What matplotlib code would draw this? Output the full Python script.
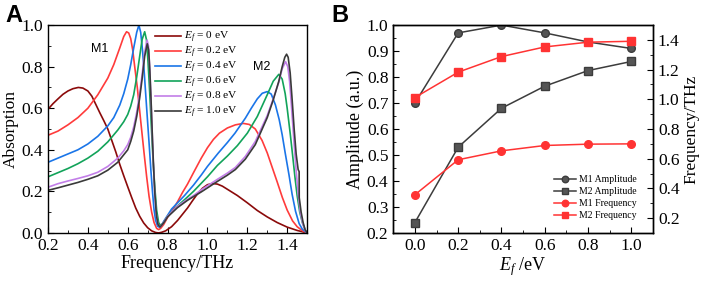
import matplotlib
matplotlib.use("Agg")
import matplotlib.pyplot as plt
from matplotlib.ticker import MultipleLocator

plt.rcParams['font.family'] = ['Liberation Serif', 'DejaVu Serif']
plt.rcParams['mathtext.fontset'] = 'custom'
plt.rcParams['mathtext.rm'] = 'Liberation Serif'
plt.rcParams['mathtext.it'] = 'Liberation Serif:italic'

# ---------------- Panel A data ----------------
f_0 = [0.2, 0.225, 0.25, 0.275, 0.3, 0.325, 0.352, 0.375, 0.4, 0.42, 0.44, 0.46, 0.48, 0.5, 0.52, 0.54, 0.56,
       0.58, 0.6, 0.62, 0.64, 0.66, 0.68, 0.7, 0.72, 0.74, 0.755, 0.77, 0.79, 0.82, 0.85, 0.875, 0.9, 0.925, 0.95,
       0.975, 1.0, 1.025, 1.05, 1.075, 1.1, 1.15, 1.2, 1.25, 1.3, 1.35, 1.4, 1.45, 1.5]
a_0 = [0.595, 0.622, 0.645, 0.667, 0.683, 0.694, 0.70, 0.697, 0.683, 0.658, 0.618, 0.578, 0.54, 0.50, 0.445, 0.39,
       0.33, 0.275, 0.222, 0.17, 0.12, 0.08, 0.048, 0.025, 0.01, 0.002, 0.0, 0.003, 0.01, 0.03, 0.06, 0.09, 0.12,
       0.155, 0.188, 0.215, 0.232, 0.238, 0.235, 0.225, 0.21, 0.18, 0.145, 0.108, 0.077, 0.05, 0.028, 0.012, 0.0]

f_2 = [0.2, 0.25, 0.3, 0.35, 0.4, 0.45, 0.5, 0.53, 0.56, 0.58, 0.594, 0.605, 0.615, 0.625, 0.635, 0.648, 0.665,
       0.682, 0.695, 0.707, 0.72, 0.732, 0.745, 0.755, 0.765, 0.78, 0.8, 0.825, 0.85, 0.875, 0.9, 0.93, 0.969, 1.0,
       1.03, 1.06, 1.1, 1.14, 1.18, 1.21, 1.24, 1.274, 1.3, 1.325, 1.35, 1.376, 1.4, 1.427, 1.45, 1.477, 1.5]
a_2 = [0.47, 0.49, 0.52, 0.555, 0.60, 0.665, 0.745, 0.81, 0.89, 0.945, 0.968, 0.962, 0.935, 0.88, 0.80, 0.70,
       0.54, 0.384, 0.27, 0.176, 0.10, 0.05, 0.022, 0.016, 0.022, 0.04, 0.075, 0.11, 0.15, 0.195, 0.235, 0.29,
       0.36, 0.41, 0.45, 0.48, 0.505, 0.52, 0.527, 0.522, 0.50, 0.445, 0.385, 0.315, 0.245, 0.17, 0.11, 0.058,
       0.03, 0.01, 0.0]

f_4 = [0.2, 0.25, 0.3, 0.35, 0.4, 0.45, 0.5, 0.53, 0.56, 0.58, 0.6, 0.615, 0.63, 0.645, 0.656, 0.665, 0.674,
       0.682, 0.69, 0.699, 0.708, 0.716, 0.724, 0.732, 0.74, 0.75, 0.758, 0.768, 0.78, 0.8, 0.82, 0.85, 0.885,
       0.93, 0.97, 1.0, 1.054, 1.1, 1.138, 1.19, 1.22, 1.25, 1.275, 1.3, 1.32, 1.341, 1.36, 1.375, 1.39, 1.409,
       1.425, 1.442, 1.46, 1.476, 1.5]
a_4 = [0.34, 0.36, 0.38, 0.40, 0.428, 0.465, 0.515, 0.555, 0.615, 0.67, 0.74, 0.81, 0.89, 0.965, 1.0, 0.965,
       0.88, 0.784, 0.67, 0.544, 0.42, 0.304, 0.20, 0.112, 0.06, 0.032, 0.028, 0.035, 0.055, 0.085, 0.115, 0.145,
       0.18, 0.23, 0.28, 0.32, 0.384, 0.435, 0.48, 0.552, 0.60, 0.645, 0.672, 0.68, 0.668, 0.616, 0.545, 0.472,
       0.385, 0.28, 0.185, 0.104, 0.045, 0.018, 0.0]

f_6 = [0.2, 0.25, 0.3, 0.35, 0.4, 0.45, 0.5, 0.55, 0.58, 0.6, 0.615, 0.63, 0.645, 0.66, 0.672, 0.685, 0.694,
       0.702, 0.71, 0.718, 0.726, 0.735, 0.745, 0.755, 0.765, 0.78, 0.8, 0.85, 0.885, 0.93, 0.97, 1.0, 1.05, 1.1,
       1.15, 1.2, 1.25, 1.3, 1.33, 1.358, 1.375, 1.39, 1.40, 1.415, 1.427, 1.44, 1.45, 1.463, 1.476, 1.49, 1.5]
a_6 = [0.27, 0.29, 0.31, 0.333, 0.36, 0.393, 0.438, 0.495, 0.535, 0.57, 0.61, 0.665, 0.75, 0.85, 0.93, 0.968,
       0.93, 0.82, 0.68, 0.52, 0.37, 0.23, 0.11, 0.05, 0.035, 0.05, 0.08, 0.13, 0.16, 0.20, 0.24, 0.27, 0.325,
       0.37, 0.42, 0.48, 0.56, 0.665, 0.73, 0.763, 0.74, 0.67, 0.60, 0.48, 0.376, 0.26, 0.18, 0.10, 0.05, 0.015,
       0.0]

f_8 = [0.2, 0.25, 0.3, 0.35, 0.4, 0.45, 0.5, 0.55, 0.58, 0.6, 0.615, 0.63, 0.645, 0.66, 0.672, 0.685, 0.697,
       0.704, 0.71, 0.716, 0.722, 0.728, 0.735, 0.743, 0.752, 0.762, 0.78, 0.8, 0.85, 0.885, 0.93, 0.97, 1.05, 1.1,
       1.14, 1.19, 1.24, 1.3, 1.33, 1.358, 1.375, 1.392, 1.403, 1.412, 1.42, 1.434, 1.445, 1.456, 1.466, 1.478,
       1.49, 1.5]
a_8 = [0.22, 0.237, 0.25, 0.262, 0.275, 0.292, 0.32, 0.36, 0.395, 0.425, 0.46, 0.51, 0.58, 0.67, 0.76, 0.87,
       0.928, 0.90, 0.80, 0.66, 0.50, 0.35, 0.20, 0.09, 0.04, 0.028, 0.05, 0.08, 0.128, 0.152, 0.18, 0.208, 0.258,
       0.288, 0.315, 0.368, 0.44, 0.565, 0.645, 0.725, 0.79, 0.824, 0.80, 0.73, 0.63, 0.44, 0.30, 0.18, 0.10,
       0.045, 0.012, 0.0]

f_10 = [0.2, 0.25, 0.3, 0.35, 0.4, 0.45, 0.5, 0.55, 0.575, 0.6, 0.615, 0.63, 0.645, 0.66, 0.672, 0.685, 0.698,
        0.705, 0.711, 0.717, 0.723, 0.729, 0.736, 0.744, 0.752, 0.762, 0.78, 0.8, 0.85, 0.9, 0.97, 1.05, 1.1, 1.14,
        1.19, 1.24, 1.3, 1.33, 1.358, 1.375, 1.388, 1.397, 1.405, 1.415, 1.425, 1.435, 1.445, 1.455, 1.46, 1.4605,
        1.47, 1.48, 1.49, 1.5]
a_10 = [0.205, 0.217, 0.23, 0.243, 0.258, 0.275, 0.302, 0.34, 0.37, 0.40, 0.44, 0.49, 0.56, 0.65, 0.74, 0.85,
        0.91, 0.88, 0.78, 0.64, 0.48, 0.33, 0.19, 0.085, 0.04, 0.028, 0.048, 0.077, 0.122, 0.157, 0.198, 0.248,
        0.278, 0.305, 0.355, 0.425, 0.555, 0.64, 0.73, 0.80, 0.845, 0.86, 0.845, 0.77, 0.64, 0.50, 0.38, 0.305,
        0.295, 0.17, 0.10, 0.05, 0.015, 0.0]

labels_A = ["0", "0.2", "0.4", "0.6", "0.8", "1.0"]
colors_A = ["#8b0a0a", "#ff3b3b", "#1a75e8", "#12a35a", "#c27ee8", "#3a3a3a"]

# ---------------- Panel B data ----------------
ef = [0.0, 0.2, 0.4, 0.6, 0.8, 1.0]
m1_amp = [0.70, 0.97, 1.00, 0.97, 0.935, 0.91]
m2_amp = [0.24, 0.53, 0.68, 0.765, 0.825, 0.86]
m1_freq = [0.357, 0.593, 0.653, 0.689, 0.698, 0.70]
m2_freq = [1.012, 1.183, 1.288, 1.353, 1.385, 1.391]

fig = plt.figure(figsize=(7.06, 2.82), dpi=100)
axA = fig.add_axes([0.068, 0.174, 0.367, 0.737])
axB = fig.add_axes([0.557, 0.174, 0.368, 0.737])

curves = [(f_0, a_0), (f_2, a_2), (f_4, a_4), (f_6, a_6), (f_8, a_8), (f_10, a_10)]
for (fx, ay), lab, c in zip(curves, labels_A, colors_A):
    axA.plot(fx, ay, color=c, lw=1.2, label=r"$E_f$" + " = " + lab + " eV", solid_joinstyle='round')

axA.set_xlim(0.2, 1.5)
axA.set_ylim(0.0, 1.0)
axA.xaxis.set_minor_locator(MultipleLocator(0.1))
axA.yaxis.set_major_locator(MultipleLocator(0.2))
axA.yaxis.set_minor_locator(MultipleLocator(0.1))
axA.set_xticks([0.2, 0.4, 0.6, 0.8, 1.0, 1.2, 1.4])
axA.tick_params(which='both', direction='in', labelsize=12.5)
axA.tick_params(which='major', length=4.5)
axA.tick_params(which='minor', length=2.5)
axA.set_xlabel("Frequency/THz", fontsize=13, labelpad=1)
axA.set_ylabel("Absorption", fontsize=12.5, labelpad=2)
axA.legend(loc='upper left', bbox_to_anchor=(0.385, 1.01), frameon=False, fontsize=8.2,
           handlelength=2.3, handletextpad=0.25, labelspacing=0.0, borderaxespad=0.2, handleheight=0.6)
axA.text(0.46, 0.885, "M1", fontsize=9, family='Liberation Sans', ha='center', va='center')
axA.text(1.27, 0.80, "M2", fontsize=9, family='Liberation Sans', ha='center', va='center')

# Panel B
axB.plot(ef, m1_amp, color='#3c3c3c', marker='o', ms=5.5, lw=1.1, mfc='#555555', mec='#3c3c3c',
         label="M1 Amplitude")
axB.plot(ef, m2_amp, color='#3c3c3c', marker='s', ms=5.5, lw=1.1, mfc='#555555', mec='#3c3c3c',
         label="M2 Amplitude")
axB.set_xlim(-0.1, 1.1)
axB.set_ylim(0.2, 1.0)
axB.xaxis.set_minor_locator(MultipleLocator(0.1))
axB.yaxis.set_major_locator(MultipleLocator(0.1))
axB.yaxis.set_minor_locator(MultipleLocator(0.05))
axB.tick_params(which='both', direction='in', labelsize=12.5)
axB.tick_params(which='major', length=4.5)
axB.tick_params(which='minor', length=2.5)
axB.set_xticks([0.0, 0.2, 0.4, 0.6, 0.8, 1.0])
axB.set_xlabel(r"$E_f$" + " /eV", fontsize=13, labelpad=1)
axB.set_ylabel("Amplitude (a.u.)", fontsize=13, labelpad=2)

axB2 = axB.twinx()
axB2.plot(ef, m1_freq, color='#ff3333', marker='o', ms=5.5, lw=1.1, label="M1 Frequency")
axB2.plot(ef, m2_freq, color='#ff3333', marker='s', ms=5.5, lw=1.1, label="M2 Frequency")
axB2.set_ylim(0.1, 1.5)
axB2.yaxis.set_minor_locator(MultipleLocator(0.1))
axB2.set_yticks([0.2, 0.4, 0.6, 0.8, 1.0, 1.2, 1.4])
axB2.tick_params(which='both', direction='in', labelsize=12.5)
axB2.tick_params(which='major', length=4.5)
axB2.tick_params(which='minor', length=2.5)
axB2.set_ylabel("Frequency/THz", fontsize=12.5, labelpad=3)

h1, l1 = axB.get_legend_handles_labels()
h2, l2 = axB2.get_legend_handles_labels()
axB2.legend(h1 + h2, l1 + l2, loc='lower right', bbox_to_anchor=(0.97, 0.02), frameon=False, fontsize=7,
            handlelength=2.2, handletextpad=0.3, labelspacing=0.3, markerscale=0.85)

for ax in (axA, axB, axB2):
    for s in ax.spines.values():
        s.set_linewidth(1.0)

fig.text(0.008, 0.985, "A", fontsize=17, fontweight='bold', family='Liberation Sans', va='top', ha='left')
fig.text(0.470, 0.985, "B", fontsize=17, fontweight='bold', family='Liberation Sans', va='top', ha='left')

fig.savefig("out.png", dpi=100)
